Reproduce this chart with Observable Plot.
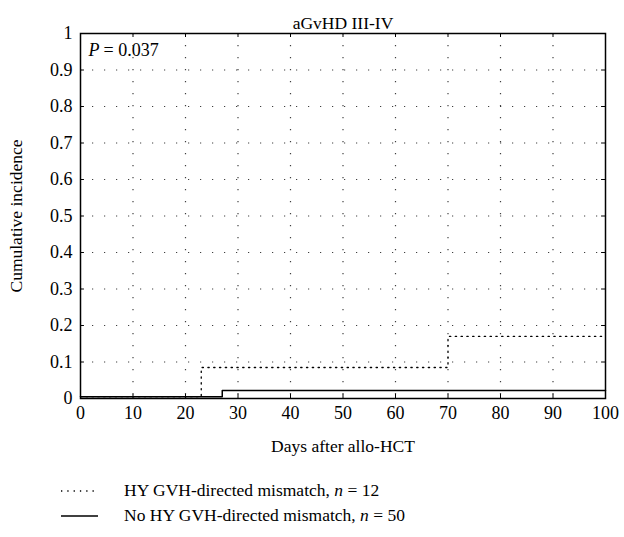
<!DOCTYPE html>
<html>
<head>
<meta charset="utf-8">
<script src="https://cdn.jsdelivr.net/npm/d3@7"></script>
<script src="https://cdn.jsdelivr.net/npm/@observablehq/plot@0.6"></script>
<style>
  body { margin: 0; background: #fff; }
  #wrap { position: relative; width: 624px; height: 537px; font-family: "Liberation Serif", serif; }
  .leg { position: absolute; left: 0; font-size: 17.5px; color: #000; white-space: nowrap; }
  .leg svg { position: absolute; left: 0; top: 0; }
  .leg span { position: absolute; left: 124px; top: -11px; }
</style>
</head>
<body>
<div id="wrap"></div>
<script>
// Step data (days, cumulative incidence)
const hyDays = [0, 23, 70, 100];
const hyValues = [0.005, 0.085, 0.17, 0.17];
const noDays = [0, 27, 100];
const noValues = [0.005, 0.022, 0.022];

const xTicks = [0, 10, 20, 30, 40, 50, 60, 70, 80, 90, 100];
const yTicks = [0, 0.1, 0.2, 0.3, 0.4, 0.5, 0.6, 0.7, 0.8, 0.9, 1];
const yTickLabels = ["0", "0.1", "0.2", "0.3", "0.4", "0.5", "0.6", "0.7", "0.8", "0.9", "1"];

const title = "aGvHD III-IV";
const pValue = "= 0.037";
const xLabel = "Days after allo-HCT";
const yLabel = "Cumulative incidence";
const seriesNames = ["HY GVH-directed mismatch, ", "No HY GVH-directed mismatch, "];
const seriesN = [12, 50];

const hy = hyDays.map((d, i) => ({x: d, y: hyValues[i]}));
const no = noDays.map((d, i) => ({x: d, y: noValues[i]}));

const tickLenX = 0.75; // days
const tickLenY = 0.011;

const plot = Plot.plot({
  width: 624,
  height: 470,
  marginLeft: 80,
  marginRight: 19,
  marginTop: 33,
  marginBottom: 72,
  style: {fontFamily: "Liberation Serif, serif", fontSize: "17px", color: "#000", background: "#fff"},
  x: {domain: [0, 100], ticks: xTicks},
  y: {domain: [0, 1], ticks: yTicks},
  marks: [
    // dotted grid
    Plot.ruleX(xTicks.slice(1, -1), {stroke: "#000", strokeWidth: 1.2, strokeDasharray: "1.2,10.8", strokeOpacity: 0.75}),
    Plot.ruleY(yTicks.slice(1, -1), {stroke: "#000", strokeWidth: 1.2, strokeDasharray: "1.2,10.8", strokeOpacity: 0.75}),
    // inward ticks
    Plot.ruleX(xTicks, {y1: 0, y2: tickLenY, stroke: "#000"}),
    Plot.ruleX(xTicks, {y1: 1, y2: 1 - tickLenY, stroke: "#000"}),
    Plot.ruleY(yTicks, {x1: 0, x2: tickLenX, stroke: "#000"}),
    Plot.ruleY(yTicks, {x1: 100, x2: 100 - tickLenX, stroke: "#000"}),
    // data
    Plot.line(hy, {x: "x", y: "y", curve: "step-after", stroke: "#000", strokeWidth: 1.3, strokeDasharray: "1.3,4.5"}),
    Plot.line(no, {x: "x", y: "y", curve: "step-after", stroke: "#000", strokeWidth: 1.5}),
    Plot.frame({stroke: "#000", strokeWidth: 1.5}),
    Plot.axisX({ticks: xTicks, tickSize: 0, tickPadding: 8, label: null, fontSize: 18}),
    Plot.axisY({ticks: yTicks, tickSize: 0, tickPadding: 8, label: null, fontSize: 18,
      tickFormat: (d) => yTickLabels[yTicks.indexOf(d)]}),
    Plot.text([title], {frameAnchor: "top", dy: -17, text: d => d, fontSize: 17.5}),
    Plot.text([xLabel], {frameAnchor: "bottom", dy: 53, text: d => d, fontSize: 17.5}),
    Plot.text([yLabel], {frameAnchor: "left", dx: -64, rotate: -90, textAnchor: "middle", text: d => d, fontSize: 17.5}),
    Plot.text(["P"], {frameAnchor: "top-left", dx: 8, dy: 10, text: d => d, fontSize: 18, fontStyle: "italic", textAnchor: "start"}),
    Plot.text([pValue], {frameAnchor: "top-left", dx: 23, dy: 10, text: d => d, fontSize: 18, textAnchor: "start"})
  ]
});

const wrap = document.getElementById("wrap");
wrap.appendChild(plot);

const legendY = [491, 516];
const legendDash = ["1.3,5", null];
seriesNames.forEach((name, i) => {
  const row = document.createElement("div");
  row.className = "leg";
  row.style.top = legendY[i] + "px";
  const ns = "http://www.w3.org/2000/svg";
  const svg = document.createElementNS(ns, "svg");
  svg.setAttribute("width", "120");
  svg.setAttribute("height", "2");
  svg.style.overflow = "visible";
  const ln = document.createElementNS(ns, "line");
  ln.setAttribute("x1", "61"); ln.setAttribute("x2", "98");
  ln.setAttribute("y1", "0"); ln.setAttribute("y2", "0");
  ln.setAttribute("stroke", "#000");
  ln.setAttribute("stroke-width", i === 0 ? "1.3" : "1.5");
  if (legendDash[i]) ln.setAttribute("stroke-dasharray", legendDash[i]);
  svg.appendChild(ln);
  row.appendChild(svg);
  const span = document.createElement("span");
  span.innerHTML = name + "<i>n</i> = " + seriesN[i];
  row.appendChild(span);
  wrap.appendChild(row);
});
</script>
</body>
</html>
